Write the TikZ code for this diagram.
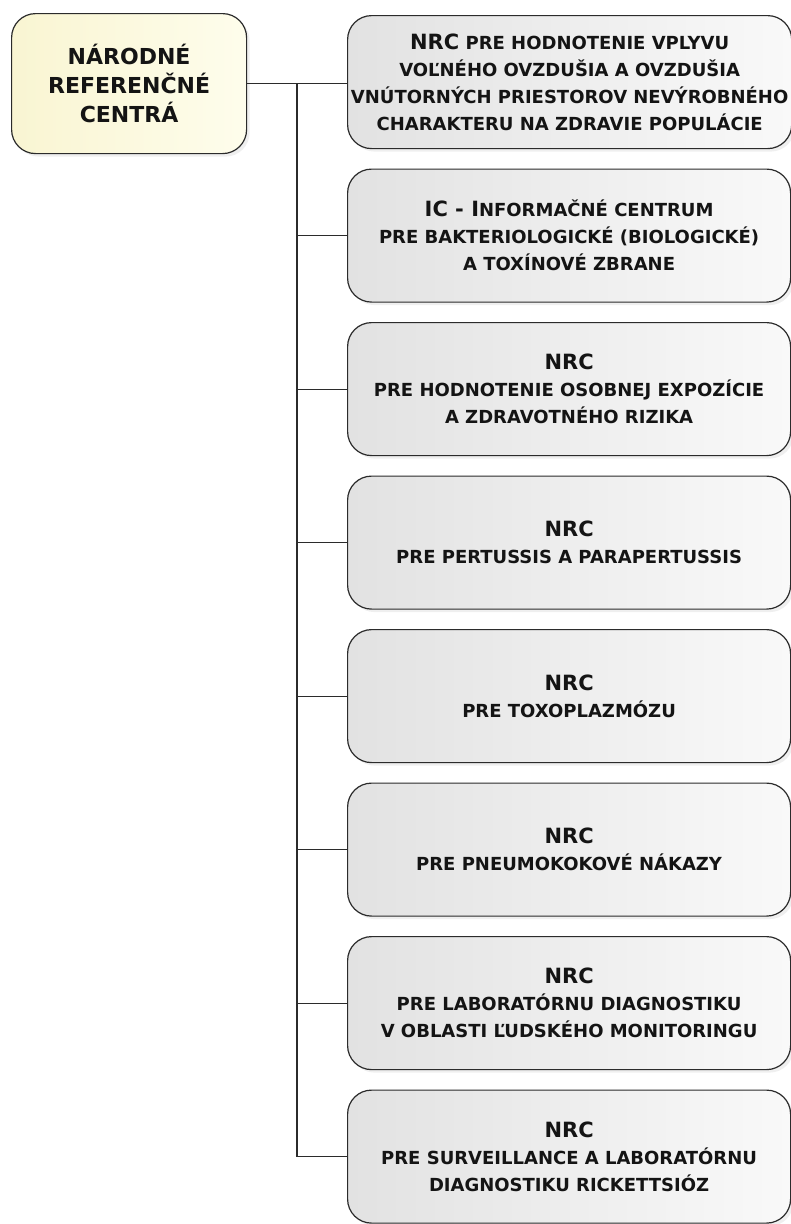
\documentclass[tikz,border=0pt]{standalone}
\usepackage{fontspec}
\setmainfont{DejaVu Sans}
\usetikzlibrary{shadows}
\definecolor{edgec}{HTML}{2B2B2B}
\definecolor{boxL}{HTML}{E2E2E2}
\definecolor{boxR}{HTML}{F9F9F9}
\definecolor{ylwL}{HTML}{F9F5D2}
\definecolor{ylwR}{HTML}{FEFDEC}
\definecolor{txt}{HTML}{141414}
\newcommand{\nrcfont}{\fontsize{21}{28}\selectfont}
\tikzset{
  cbox/.style={draw=edgec, line width=1.2pt, rounded corners=24pt,
    left color=boxL, right color=boxR, text=txt,
    minimum width=443pt, minimum height=133pt, align=center,
    anchor=north west,
    font=\bfseries\fontsize{18}{27}\selectfont,
    drop shadow={opacity=0.12, shadow xshift=3pt, shadow yshift=-3pt}},
  rootbox/.style={draw=edgec, line width=1.2pt, rounded corners=24pt,
    left color=ylwL, right color=ylwR, text=txt,
    minimum width=235pt, minimum height=140pt, align=center,
    anchor=north west,
    font=\bfseries\fontsize{22}{29}\selectfont,
    drop shadow={opacity=0.12, shadow xshift=3pt, shadow yshift=-3pt}},
  link/.style={draw=edgec, line width=1.2pt}
}
\begin{document}
\begin{tikzpicture}[x=1pt,y=-1pt]
\useasboundingbox[fill=white] (0,0) rectangle (791,1224);
\node[rootbox] (root) at (11,13) {NÁRODNÉ\\REFERENČNÉ\\CENTRÁ};
\node[cbox] (b1) at (347,15) {{\nrcfont NRC} PRE HODNOTENIE VPLYVU\\VOĽNÉHO OVZDUŠIA A OVZDUŠIA\\VNÚTORNÝCH PRIESTOROV NEVÝROBNÉHO\\CHARAKTERU NA ZDRAVIE POPULÁCIE};
\node[cbox] (b2) at (347,168.5) {{\nrcfont IC - I}NFORMAČNÉ CENTRUM\\PRE BAKTERIOLOGICKÉ (BIOLOGICKÉ)\\A TOXÍNOVÉ ZBRANE};
\node[cbox] (b3) at (347,322) {{\nrcfont NRC}\\PRE HODNOTENIE OSOBNEJ EXPOZÍCIE\\A ZDRAVOTNÉHO RIZIKA};
\node[cbox] (b4) at (347,475.5) {{\nrcfont NRC}\\PRE PERTUSSIS A PARAPERTUSSIS};
\node[cbox] (b5) at (347,629) {{\nrcfont NRC}\\PRE TOXOPLAZMÓZU};
\node[cbox] (b6) at (347,782.5) {{\nrcfont NRC}\\PRE PNEUMOKOKOVÉ NÁKAZY};
\node[cbox] (b7) at (347,936) {{\nrcfont NRC}\\PRE LABORATÓRNU DIAGNOSTIKU\\V OBLASTI ĽUDSKÉHO MONITORINGU};
\node[cbox] (b8) at (347,1089.5) {{\nrcfont NRC}\\PRE SURVEILLANCE A LABORATÓRNU\\DIAGNOSTIKU RICKETTSIÓZ};
\coordinate (tx) at (297,0);
\draw[link] (root.east) -- (root.east -| b1.west);
\draw[link] (root.east -| tx) -- (b8.west -| tx) -- (b8.west);
\foreach \i in {2,...,7} {\draw[link] (b\i.west -| tx) -- (b\i.west);}
\end{tikzpicture}
\end{document}
